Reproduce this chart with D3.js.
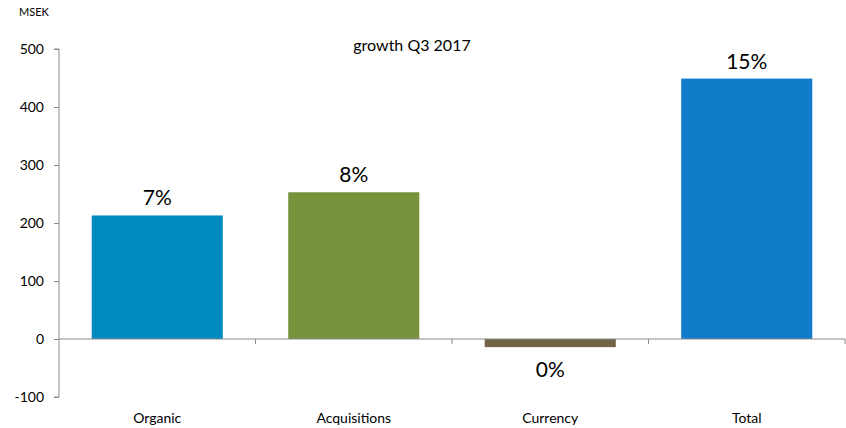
<!DOCTYPE html>
<html><head><meta charset="utf-8">
<script src="https://cdn.jsdelivr.net/npm/d3@7/dist/d3.min.js"></script>
<style>body{margin:0;background:#fff}text{font-family:Lato,"Open Sans",sans-serif;fill:#000}</style>
</head><body><svg id="c" width="846" height="428"></svg>
<script>
const categories = ["Organic", "Acquisitions", "Currency", "Total"];
const values = [213, 253, -14, 449];
const labels = ["7%", "8%", "0%", "15%"];
const colors = ["#008ABF", "#77933C", "#716546", "#117CCA"];
const yTicks = [-100, 0, 100, 200, 300, 400, 500];

const svg = d3.select("#c");
const x0 = 59, x1 = 845;
const x = d3.scaleBand().domain(categories).range([x0, x1]).paddingInner(0.333).paddingOuter(0.1665);
const y = d3.scaleLinear().domain([-100, 500]).range([397, 49]);

// y axis
const ya = svg.append("g").attr("transform", `translate(${x0},0)`)
  .call(d3.axisLeft(y).tickValues(yTicks).tickSize(5).tickPadding(10).tickFormat(d => String(d)));
ya.select(".domain").attr("stroke", "#8c8c8c").attr("d", `M-5,${y(500)}H0V${y(-100)}H-5`);
ya.selectAll(".tick line").attr("stroke", "#8c8c8c");
ya.selectAll(".tick text").attr("font-size", 14).attr("font-family", "Lato,sans-serif").attr("fill", "#000");

// bars
svg.selectAll("rect.bar").data(categories).join("rect")
  .attr("x", d => x(d)).attr("width", x.bandwidth())
  .attr("y", (d, i) => y(Math.max(0, values[i])))
  .attr("height", (d, i) => Math.abs(y(values[i]) - y(0)))
  .attr("fill", (d, i) => colors[i]);

// zero line with category ticks
const step = x.step();
svg.append("line").attr("x1", x0).attr("x2", x1).attr("y1", y(0)).attr("y2", y(0)).attr("stroke", "#8c8c8c");
categories.forEach((c, i) => {
  if (i === 0) return;
  const bx = x0 + step * i;
  svg.append("line").attr("x1", bx).attr("x2", bx).attr("y1", y(0)).attr("y2", y(0) + 5).attr("stroke", "#8c8c8c");
});
svg.append("line").attr("x1", x1).attr("x2", x1).attr("y1", y(0)).attr("y2", y(0) + 5).attr("stroke", "#8c8c8c");

// value labels
svg.selectAll("text.val").data(categories).join("text")
  .attr("x", d => x(d) + x.bandwidth() / 2)
  .attr("y", (d, i) => values[i] >= 0 ? y(values[i]) - 10 : y(values[i]) + 30)
  .attr("text-anchor", "middle").attr("font-size", 21)
  .text((d, i) => labels[i]);

// category labels
svg.selectAll("text.cat").data(categories).join("text")
  .attr("x", d => x(d) + x.bandwidth() / 2).attr("y", 423)
  .attr("text-anchor", "middle").attr("font-size", 14).text(d => d);

svg.append("text").attr("x", 412).attr("y", 51).attr("text-anchor", "middle").attr("font-size", 16).text("growth Q3 2017");
svg.append("text").attr("x", 19).attr("y", 16).attr("font-size", 11).text("MSEK");
</script></body></html>
